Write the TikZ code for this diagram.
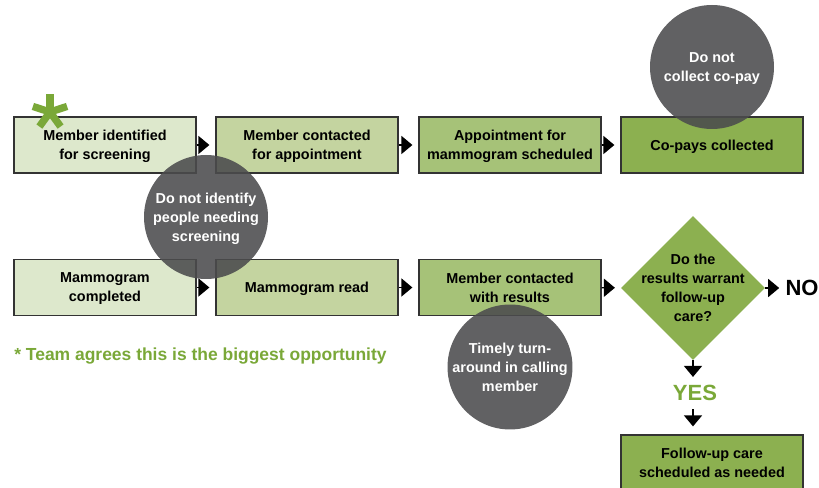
\documentclass[tikz,border=0pt]{standalone}
\usepackage{fontspec}
\setmainfont{Liberation Sans}
\usetikzlibrary{arrows.meta,shapes.geometric}

\definecolor{gA}{RGB}{221,232,204}
\definecolor{gB}{RGB}{196,212,160}
\definecolor{gC}{RGB}{166,194,120}
\definecolor{gD}{RGB}{140,176,80}
\definecolor{gText}{RGB}{122,168,56}
\definecolor{edge}{RGB}{51,51,51}
\definecolor{bubble}{RGB}{75,75,77}

\tikzset{
  stepbox/.style={draw=edge, line width=0.9pt, minimum width=136.5pt, minimum height=42pt,
    inner sep=0pt, text depth=0pt, align=center, font=\fontsize{10.8}{14.25}\selectfont\bfseries},
  bubbletxt/.style={circle, fill=bubble, fill opacity=0.88, text opacity=1, text=white,
    minimum size=93pt, inner sep=0pt, text depth=0pt, align=center, font=\fontsize{10.8}{14.25}\selectfont\bfseries},
  flow/.style={-{Triangle[length=8.25pt,width=13.5pt]}, line width=1.1pt, black, shorten >=4.5pt},
}

\begin{document}
\begin{tikzpicture}[x=0.75pt,y=0.75pt,yscale=-1,xscale=1]
\useasboundingbox (0,0) rectangle (819,488);

% first row
\node[stepbox, fill=gA] (ident) at (105,145) {Member identified\\for screening};
\node[stepbox, fill=gB] (contact) at (307,145) {Member contacted\\for appointment};
\node[stepbox, fill=gC] (appt) at (510,145) {Appointment for\\mammogram scheduled};
\node[stepbox, fill=gD] (copay) at (712,145) {Co-pays collected};

% second row
\node[stepbox, fill=gA] (done) at (105,287.5) {Mammogram\\completed};
\node[stepbox, fill=gB] (read) at (307,287.5) {Mammogram read};
\node[stepbox, fill=gC] (results) at (510,287.5) {Member contacted\\with results};

% decision
\node[diamond, aspect=1, fill=gD, minimum size=108pt, inner sep=0pt,
  label={[align=center, text depth=0pt, font=\fontsize{10.8}{14.25}\selectfont\bfseries]center:Do the\\results warrant\\follow-up\\care?}] (warrant) at (693,288) {};
\node[inner sep=0pt, font=\fontsize{16.5}{18}\selectfont\bfseries] (no) at (802,288) {NO};
\node[inner sep=0pt, text=gText, font=\fontsize{16.5}{18}\selectfont\bfseries] (yes) at (695,393) {YES};
\node[stepbox, fill=gD] (follow) at (712,463) {Follow-up care\\scheduled as needed};

% connectors
\draw[flow] (ident) -- (contact);
\draw[flow] (contact) -- (appt);
\draw[flow] (appt) -- (copay);
\draw[flow] (done) -- (read);
\draw[flow] (read) -- (results);
\draw[flow] (results) -- (warrant);
\draw[flow] (warrant.east) -- (no.west);
\draw[flow, shorten >=6pt] (warrant.south) -- (warrant.south |- yes.north);
\draw[flow, shorten <=6pt, shorten >=6pt] (warrant.south |- yes.south) -- (warrant.south |- follow.north);

% gaps
\node[bubbletxt] (nocopay) at (712,67) {Do not\\collect co-pay};
\node[bubbletxt] (noident) at (206,217) {Do not identify\\people needing\\screening};
\node[bubbletxt] (timely) at (510,367) {Timely turn-\\around in calling\\member};

% asterisk and note
\coordinate (star) at (50,112);
\foreach \a in {90,18,162,234,306}
  \draw[gText, line width=5.5pt] (star) -- ++(-\a:18);
\node[anchor=west, inner sep=0pt, text=gText, font=\fontsize{13.1}{15}\selectfont\bfseries] (note) at (14,356)
  {* Team agrees this is the biggest opportunity};

\end{tikzpicture}
\end{document}
